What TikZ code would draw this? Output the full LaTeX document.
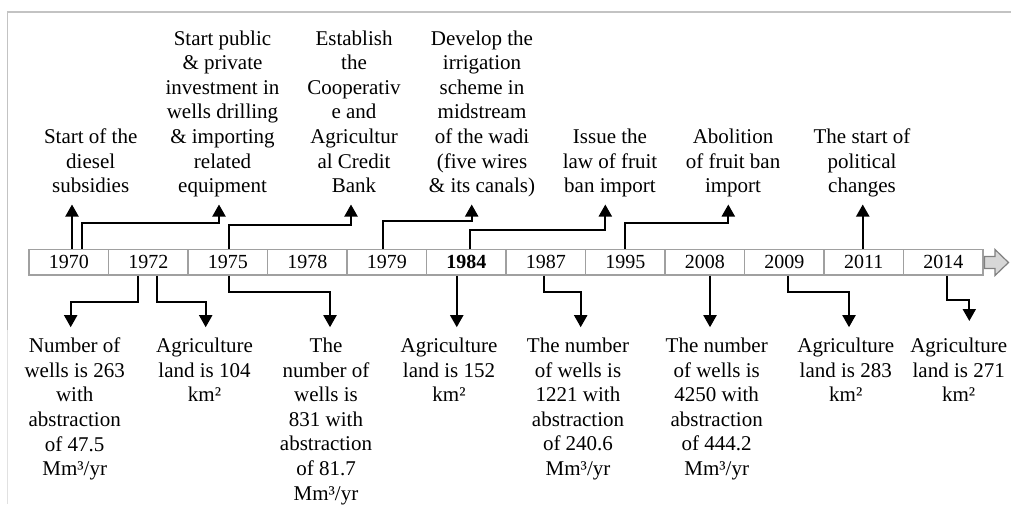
\documentclass[tikz,border=0pt]{standalone}
\usepackage{fontspec}
\setmainfont{Liberation Serif}
\usetikzlibrary{arrows.meta,positioning}
\definecolor{boxgray}{RGB}{160,160,160}
\definecolor{framegray}{RGB}{195,195,195}
\definecolor{arrowfill}{RGB}{215,215,215}

\begin{document}
\begin{tikzpicture}[x=1pt,y=-1pt,
    yearbox/.style={draw=boxgray, line width=1.2pt, fill=white, minimum width=79.5pt, minimum height=25.5pt, inner sep=0pt, font=\fontsize{20}{24}\selectfont},
    upevent/.style={align=center, anchor=south, inner sep=0pt, text depth=4.6pt, font=\fontsize{21}{24.6}\selectfont},
    downevent/.style={align=center, anchor=north, inner sep=0pt, font=\fontsize{21}{24.6}\selectfont},
    link/.style={line width=2pt, -{Triangle[width=13pt,length=12pt]}}]
    \useasboundingbox (0,0) rectangle (1011,504);
    \draw[framegray, line width=1.5pt] (7.5,330) -- (7.5,12) -- (1011,12);
    \draw[framegray!50, line width=1pt] (7.5,504) -- (7.5,330);

    \foreach \yr/\lbl [count=\i] in {1970/1970,1972/1972,1975/1975,1978/1978,1979/1979,1984/\textbf{1984},1987/1987,1995/1995,2008/2008,2009/2009,2011/2011,2014/2014}
        \node[yearbox] (y\yr) at ({29+79.5*(\i-0.5)},262.25) {\lbl};
    \draw[draw=gray, fill=arrowfill, line width=1.2pt] (984.5,256.5) -- (995,256.5) -- (995,249.5) -- (1008.5,262.5) -- (995,275.5) -- (995,268.5) -- (984.5,268.5) -- cycle;

    \node[upevent] (diesel) at (90.7,197.5) {Start of the\\diesel\\subsidies};
    \node[upevent] (invest) at (222.5,197.5) {Start public\\\& private\\investment in\\wells drilling\\\& importing\\related\\equipment};
    \node[upevent] (bank) at (354,197.5) {Establish\\the\\Cooperativ\\e and\\Agricultur\\al Credit\\Bank};
    \node[upevent] (irrig) at (482,197.5) {Develop the\\irrigation\\scheme in\\midstream\\of the wadi\\(five wires\\\& its canals)};
    \node[upevent] (banlaw) at (610,197.5) {Issue the\\law of fruit\\ban import};
    \node[upevent] (abolish) at (733,197.5) {Abolition\\of fruit ban\\import};
    \node[upevent] (politic) at (862,197.5) {The start of\\political\\changes};

    \node[downevent] (wells72) at (74.7,337.7) {Number of\\wells is 263\\with\\abstraction\\of 47.5\\Mm³/yr};
    \node[downevent] (land72) at (204.5,337.7) {Agriculture\\land is 104\\km²};
    \node[downevent] (wells75) at (326,337.7) {The\\number of\\wells is\\831 with\\abstraction\\of 81.7\\Mm³/yr};
    \node[downevent] (land84) at (449,337.7) {Agriculture\\land is 152\\km²};
    \node[downevent] (wells87) at (578,337.7) {The number\\of wells is\\1221 with\\abstraction\\of 240.6\\Mm³/yr};
    \node[downevent] (wells08) at (716.7,337.7) {The number\\of wells is\\4250 with\\abstraction\\of 444.2\\Mm³/yr};
    \node[downevent] (land09) at (845.8,337.7) {Agriculture\\land is 283\\km²};
    \node[downevent] (land14) at (958.7,337.7) {Agriculture\\land is 271\\km²};

    \draw[link] ([xshift=3.25pt]y1970.north) -- ([xshift=3.25pt,yshift=-7pt]y1970.north |- diesel.south);
    \draw[link] ([xshift=13pt]y1970.north) -- ++(0pt,25.5pt) -| ([xshift=-3.5pt,yshift=-7pt]invest.south);
    \draw[link] ([xshift=1.25pt]y1975.north) -- ++(0pt,23.5pt) -| ([xshift=-3pt,yshift=-7pt]bank.south);
    \draw[link] ([xshift=-3.5pt]y1979.north) -- ++(0pt,27.5pt) -| ([xshift=-10.3pt,yshift=-7pt]irrig.south);
    \draw[link] ([xshift=3.75pt]y1984.north) -- ++(0pt,18.5pt) -| ([xshift=-4.7pt,yshift=-7pt]banlaw.south);
    \draw[link] (y1995.north) -- ++(0pt,25.5pt) -| ([xshift=-4.7pt,yshift=-7pt]abolish.south);
    \draw[link] ([xshift=-1pt]y2011.north) -- ([xshift=-1pt,yshift=-7pt]y2011.north |- politic.south);

    \draw[link] ([xshift=-10pt]y1972.south) -- ++(0pt,-26pt) -| ([xshift=-4pt,yshift=10.5pt]wells72.north);
    \draw[link] ([xshift=8.5pt]y1972.south) -- ++(0pt,-26pt) -| ([xshift=1.2pt,yshift=10.5pt]land72.north);
    \draw[link] ([xshift=1.25pt]y1975.south) -- ++(0pt,-16.7pt) -| ([xshift=4pt,yshift=10.5pt]wells75.north);
    \draw[link] ([xshift=-9.5pt]y1984.south) -- ([xshift=-9.5pt,yshift=10.5pt]y1984.south |- land84.north);
    \draw[link] ([xshift=-1.75pt]y1987.south) -- ++(0pt,-16.7pt) -| ([xshift=2.7pt,yshift=10.5pt]wells87.north);
    \draw[link] ([xshift=5.25pt]y2008.south) -- ([xshift=5.25pt,yshift=10.5pt]y2008.south |- wells08.north);
    \draw[link] ([xshift=3.5pt]y2009.south) -- ++(0pt,-16.7pt) -| ([xshift=3.2pt,yshift=10.5pt]land09.north);
    \draw[link] ([xshift=3.5pt]y2014.south) -- ++(0pt,-24.3pt) -| ([xshift=10.6pt,yshift=16.7pt]land14.north);
\end{tikzpicture}
\end{document}
